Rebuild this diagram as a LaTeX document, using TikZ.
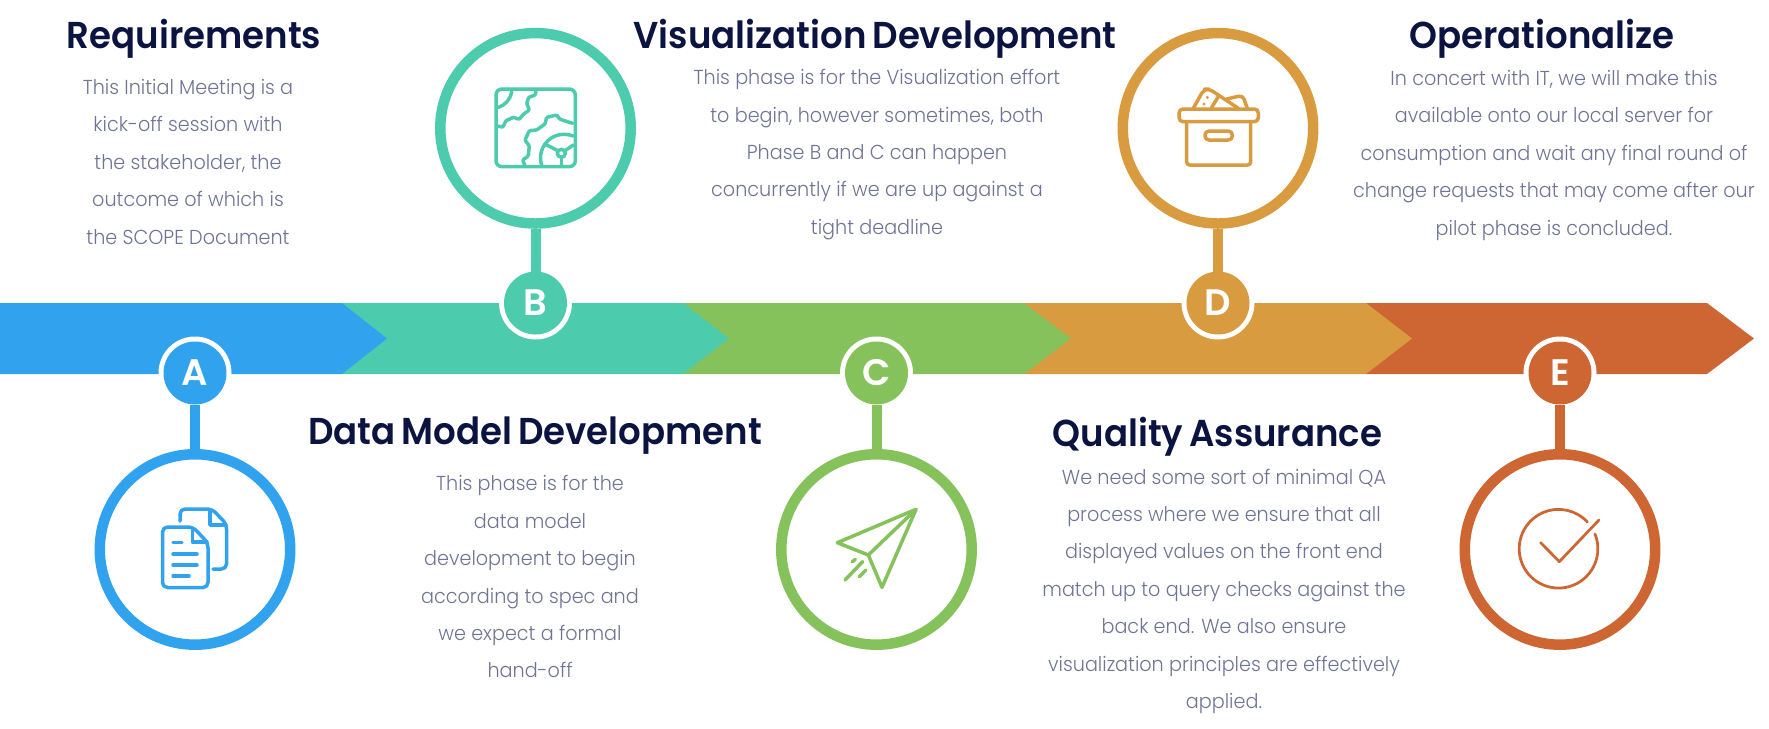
\documentclass[tikz,border=0pt]{standalone}
\usepackage{fontspec}
\setmainfont{Poppins}
\newfontfamily\headfont{Poppins SemiBold}[FakeStretch=0.95, WordSpace=0.7]
\newfontfamily\blurbfont{Poppins Light}[FakeStretch=0.95]
\newfontfamily\badgefont{Poppins SemiBold}
\usetikzlibrary{positioning}
\definecolor{phaseA}{HTML}{31A3EE}
\definecolor{phaseB}{HTML}{4DCBAD}
\definecolor{phaseC}{HTML}{86C25B}
\definecolor{phaseD}{HTML}{D99B3F}
\definecolor{phaseE}{HTML}{CD6632}
\definecolor{navy}{HTML}{0B1440}
\definecolor{slate}{HTML}{6F7494}

\begin{document}
\begin{tikzpicture}[
  x=0.02cm, y=-0.02cm,
  badge/.style={circle, inner sep=0, outer sep=0, minimum size=1.26cm, text=white,
    font=\fontsize{21}{21}\badgefont, preaction={draw=white, line width=0.2cm}},
  bigring/.style={circle, draw, inner sep=0, line width=0.21cm, minimum size=3.81cm},
  stem/.style={line width=0.2cm},
  heading/.style={inner sep=0, text=navy, font=\fontsize{21.3}{26}\headfont},
  blurb/.style={inner sep=0, align=center, text=slate, font=\fontsize{11.5}{21.3}\blurbfont},
  glyph/.style={line width=0.07cm, line cap=round, line join=round},
  fine/.style={x=0.00667cm, y=-0.00667cm}
]
\useasboundingbox (0,0) rectangle (1769,728);

% Band
\foreach \a/\b/\tip/\c in {1366/1707/1754/phaseE, 1024/1366/1412/phaseD, 683/1024/1071/phaseC, 342/683/729/phaseB, 0/342/387/phaseA}
  \fill[\c] (\a,303) -- (\b,303) -- (\tip,338.5) -- (\b,374) -- (\a,374) -- cycle;

% Badges
\node[badge, fill=phaseA] (A) at (195,373) {A};
\node[badge, fill=phaseB] (B) at (535.5,303) {B};
\node[badge, fill=phaseC] (C) at (876.5,373) {C};
\node[badge, fill=phaseD] (D) at (1218,303) {D};
\node[badge, fill=phaseE] (E) at (1560,373) {E};

% Rings
\node[bigring, draw=phaseA, below=0.89cm of A] (ringA) {};
\node[bigring, draw=phaseB, above=0.855cm of B] (ringB) {};
\node[bigring, draw=phaseC, below=0.89cm of C] (ringC) {};
\node[bigring, draw=phaseD, above=0.855cm of D] (ringD) {};
\node[bigring, draw=phaseE, below=0.89cm of E] (ringE) {};

% Stems
\draw[stem, phaseA] (ringA) -- (A);
\draw[stem, phaseB] (ringB) -- (B);
\draw[stem, phaseC] (ringC) -- (C);
\draw[stem, phaseD] (ringD) -- (D);
\draw[stem, phaseE] (ringE) -- (E);

% Icon A
\draw[glyph, phaseA, rounded corners=0.1cm] (180,521) -- (180,509) -- (212,509) -- (226.5,524) -- (226.5,569) -- (213,569);
\draw[glyph, phaseA] (210,511) -- (210,525) -- (226,525);
\draw[glyph, phaseA, rounded corners=0.1cm] (162.5,527) -- (193,527) -- (208,543) -- (208,587.5) -- (162.5,587.5) -- cycle;
\draw[glyph, phaseA] (192.5,530) -- (192.5,542) -- (207,542);
\draw[glyph, phaseA] (173,542.5) -- (182,542.5);
\draw[glyph, phaseA] (173,554) -- (197,554);
\draw[glyph, phaseA] (173,565) -- (197,565);
\draw[glyph, phaseA] (173,576) -- (189,576);

% Icon B
\begin{scope}[shift={(430,20)}, fine]
\draw[glyph, phaseB, rounded corners=0.12cm] (198,207) rectangle (436,440);
\draw[glyph, phaseB] (205,262) to[bend right=30] (245,215);
\draw[glyph, phaseB, rounded corners=0.02cm] (318,212) -- (316,225) -- (296,232) -- (290,250) -- (298,270) -- (280,283) -- (268,298) -- (250,292) -- (228,302) -- (218,322) -- (205,318);
\draw[glyph, phaseB, rounded corners=0.02cm] (428,310) -- (390,298) -- (380,285) -- (350,292) -- (345,312) -- (320,330) -- (298,332) -- (285,360) -- (298,378) -- (295,408) -- (278,420) -- (285,438);
\draw[glyph, phaseB] (335,435) .. controls (318,385) and (365,325) .. (430,348);
\draw[glyph, phaseB] (394,400) circle[radius=12];
\draw[glyph, phaseB] (345,372) -- (383,392);
\draw[glyph, phaseB] (430,375) -- (405,392);
\draw[glyph, phaseB] (394,412) -- (394,438);
\end{scope}

% Icon C
\begin{scope}[shift={(780,440)}, fine]
\draw[glyph, phaseC] (172,308) -- (408,208) -- (306,442) -- (265,345) -- cycle;
\draw[glyph, phaseC] (265,345) -- (408,208);
\draw[glyph, phaseC] (195,420) -- (248,365);
\draw[glyph, phaseC] (238,410) -- (258,390);
\draw[glyph, phaseC] (217,365) -- (226,358);
\end{scope}

% Icon D
\begin{scope}[shift={(1110,20)}, fine]
\draw[glyph, phaseD, rounded corners=0.08cm] (207,267) rectangle (445,305);
\draw[glyph, phaseD, rounded corners=0.06cm] (230,305) -- (230,435) -- (422,435) -- (422,305);
\draw[glyph, phaseD, rounded corners=0.08cm] (285,333) rectangle (367,360);
\draw[glyph, phaseD, rounded corners=0.1cm] (250,265) -- (282,207) -- (298,207) -- (385,265);
\draw[glyph, phaseD] (305,262) -- (325,230);
\draw[glyph, phaseD, rounded corners=0.08cm] (350,237) -- (398,226) -- (412,265);
\fill[phaseD] (292,232) circle[radius=5];
\fill[phaseD] (282,252) circle[radius=5];
\end{scope}

% Icon E
\begin{scope}[shift={(1440,290)}, fine]
\draw[glyph, phaseE, line width=0.055cm] (465,732) arc[start angle=-22, end angle=317, radius=118];
\draw[glyph, phaseE, line width=0.055cm] (302,758) -- (358,815) -- (477,690);
\end{scope}

% Requirements
\node[heading] (reqtitle) at (194,39) {Requirements};
\node[blurb, below=0.4cm of reqtitle, xshift=-0.12cm] (reqtext) {
  This Initial Meeting is a\\
  kick-off session with\\
  the stakeholder, the\\
  outcome of which is\\
  the SCOPE Document
};

% Data model
\node[heading] (datatitle) at (535,435.5) {Data Model Development};
\node[blurb, below=0.41cm of datatitle, xshift=-0.1cm] (datatext) {
  This phase is for the\\
  data model\\
  development to begin\\
  according to spec and\\
  we expect a formal\\
  hand-off
};

% Visualization
\node[heading] (vistitle) at (875,39) {Visualization Development};
\node[blurb, below=0.2cm of vistitle, xshift=0.04cm] (vistext) {
  This phase is for the Visualization effort\\
  to begin, however sometimes, both\\
  Phase B and C can happen\\
  concurrently if we are up against a\\
  tight deadline
};

% Quality
\node[heading] (qatitle) at (1217.5,436.5) {Quality Assurance};
\node[blurb, below=0.24cm of qatitle, xshift=0.13cm] (qatext) {
  We need some sort of minimal QA\\
  process where we ensure that all\\
  displayed values on the front end\\
  match up to query checks against the\\
  back end. We also ensure\\
  visualization principles are effectively\\
  applied.
};

% Operationalize
\node[heading] (optitle) at (1542,39) {Operationalize};
\node[blurb, below=0.22cm of optitle, xshift=0.24cm] (optext) {
  In concert with IT, we will make this\\
  available onto our local server for\\
  consumption and wait any final round of\\
  change requests that may come after our\\
  pilot phase is concluded.
};

\end{tikzpicture}
\end{document}
